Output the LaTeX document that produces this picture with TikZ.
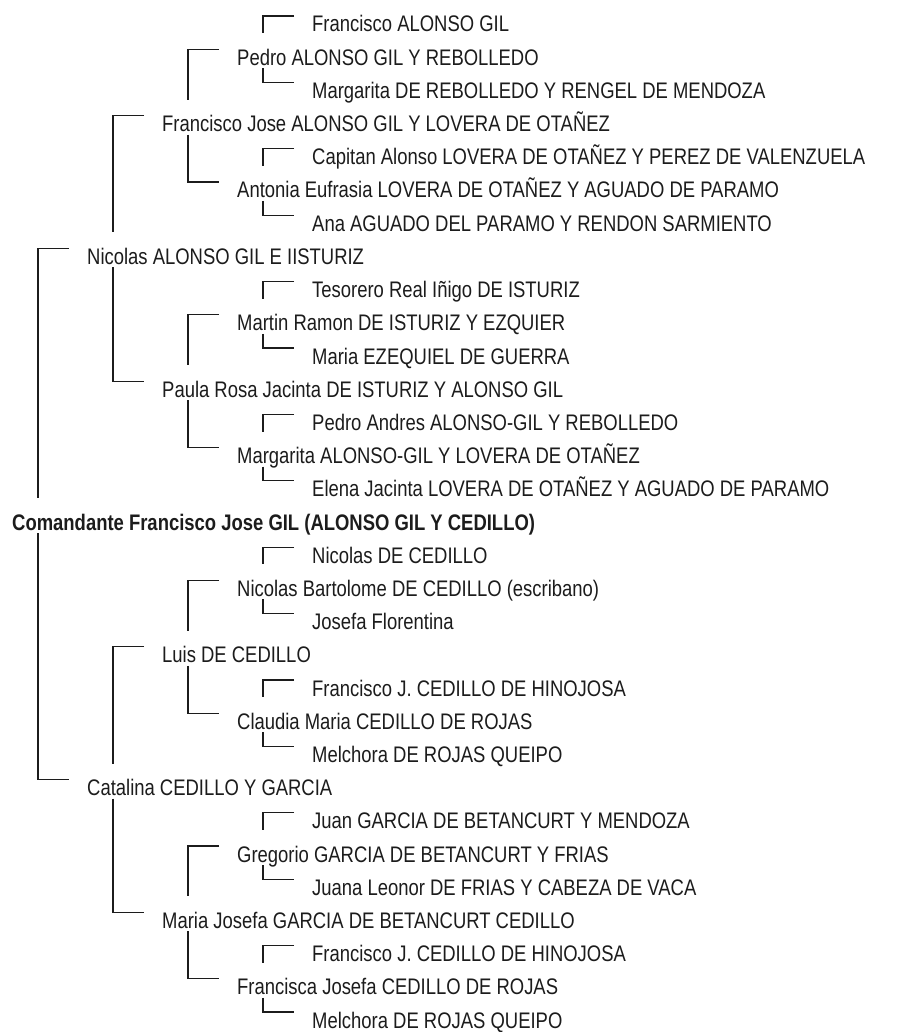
\documentclass[tikz,border=0pt]{standalone}
\usepackage{fontspec}
\setmainfont{Liberation Sans}[FakeStretch=0.82]
\usetikzlibrary{calc}
\definecolor{ink}{RGB}{28,28,28}
\newcommand\per[4]{\node[person] (#1) at ({12+75*#2},{32+33.2*(#3-1)}) {#4};}
\newcommand\brk[3]{%
  \draw[link] ($(#2.base west)+(-18pt,16pt)$) -| ($(#1.base west)+(26pt,32pt)$);
  \draw[link] ($(#1.base west)+(26pt,-3pt)$) |- ($(#3.base west)+(-18pt,16pt)$);}
\begin{document}
\begin{tikzpicture}[x=1pt,y=-1pt,
  person/.style={anchor=base west,inner sep=0pt,text=ink,font=\fontsize{22.5pt}{26pt}\selectfont},
  link/.style={draw=ink,line width=1.2pt}]
\fill[white] (0,0) rectangle (902,1032);
\useasboundingbox (0,0) rectangle (902,1032);
\per{n1}{4}{1}{Francisco ALONSO GIL}
\per{n2}{3}{2}{Pedro ALONSO GIL Y REBOLLEDO}
\per{n3}{4}{3}{Margarita DE REBOLLEDO Y RENGEL DE MENDOZA}
\per{n4}{2}{4}{Francisco Jose ALONSO GIL Y LOVERA DE OTAÑEZ}
\per{n5}{4}{5}{Capitan Alonso LOVERA DE OTAÑEZ Y PEREZ DE VALENZUELA}
\per{n6}{3}{6}{Antonia Eufrasia LOVERA DE OTAÑEZ Y AGUADO DE PARAMO}
\per{n7}{4}{7}{Ana AGUADO DEL PARAMO Y RENDON SARMIENTO}
\per{n8}{1}{8}{Nicolas ALONSO GIL E IISTURIZ}
\per{n9}{4}{9}{Tesorero Real Iñigo DE ISTURIZ}
\per{n10}{3}{10}{Martin Ramon DE ISTURIZ Y EZQUIER}
\per{n11}{4}{11}{Maria EZEQUIEL DE GUERRA}
\per{n12}{2}{12}{Paula Rosa Jacinta DE ISTURIZ Y ALONSO GIL}
\per{n13}{4}{13}{Pedro Andres ALONSO-GIL Y REBOLLEDO}
\per{n14}{3}{14}{Margarita ALONSO-GIL Y LOVERA DE OTAÑEZ}
\per{n15}{4}{15}{Elena Jacinta LOVERA DE OTAÑEZ Y AGUADO DE PARAMO}
\per{n16}{0}{16}{\bfseries Comandante Francisco Jose GIL (ALONSO GIL Y CEDILLO)}
\per{n17}{4}{17}{Nicolas DE CEDILLO}
\per{n18}{3}{18}{Nicolas Bartolome DE CEDILLO (escribano)}
\per{n19}{4}{19}{Josefa Florentina}
\per{n20}{2}{20}{Luis DE CEDILLO}
\per{n21}{4}{21}{Francisco J. CEDILLO DE HINOJOSA}
\per{n22}{3}{22}{Claudia Maria CEDILLO DE ROJAS}
\per{n23}{4}{23}{Melchora DE ROJAS QUEIPO}
\per{n24}{1}{24}{Catalina CEDILLO Y GARCIA}
\per{n25}{4}{25}{Juan GARCIA DE BETANCURT Y MENDOZA}
\per{n26}{3}{26}{Gregorio GARCIA DE BETANCURT Y FRIAS}
\per{n27}{4}{27}{Juana Leonor DE FRIAS Y CABEZA DE VACA}
\per{n28}{2}{28}{Maria Josefa GARCIA DE BETANCURT CEDILLO}
\per{n29}{4}{29}{Francisco J. CEDILLO DE HINOJOSA}
\per{n30}{3}{30}{Francisca Josefa CEDILLO DE ROJAS}
\per{n31}{4}{31}{Melchora DE ROJAS QUEIPO}
\brk{n16}{n8}{n24}
\brk{n8}{n4}{n12}
\brk{n24}{n20}{n28}
\brk{n4}{n2}{n6}
\brk{n12}{n10}{n14}
\brk{n20}{n18}{n22}
\brk{n28}{n26}{n30}
\brk{n2}{n1}{n3}
\brk{n6}{n5}{n7}
\brk{n10}{n9}{n11}
\brk{n14}{n13}{n15}
\brk{n18}{n17}{n19}
\brk{n22}{n21}{n23}
\brk{n26}{n25}{n27}
\brk{n30}{n29}{n31}
\end{tikzpicture}
\end{document}
